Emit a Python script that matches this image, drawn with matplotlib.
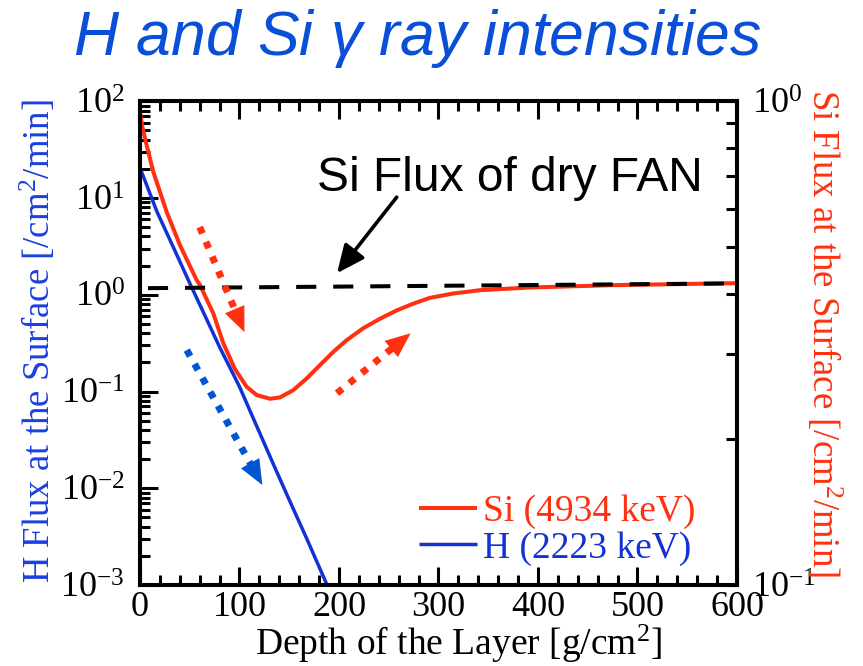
import numpy as np
import matplotlib

matplotlib.use("Agg")
import matplotlib.pyplot as plt
from matplotlib.ticker import FixedLocator, NullFormatter

plt.rcParams["font.family"] = ["Liberation Serif", "DejaVu Serif"]
plt.rcParams["mathtext.fontset"] = "custom"
plt.rcParams["mathtext.rm"] = "Liberation Serif"
plt.rcParams["mathtext.it"] = "Liberation Serif:italic"

# --- data ------------------------------------------------------------------
depth_h = [0, 2, 17, 34, 50, 65, 80, 100, 114, 134, 150, 168, 188]
flux_h_log = [1.29, 1.26, 0.86, 0.48, 0.12, -0.21, -0.54, -0.95, -1.28, -1.75, -2.12,
              -2.53, -3.0]

depth_si = [0, 2.7, 6.7, 13.4, 20.1, 26.8, 40.2, 57, 60.3, 73.7, 83.7, 95.5, 107.2,
            117.3, 130.7, 140.7, 154.1, 167.5, 180.9, 194.3, 207.7, 224.5, 241.2, 258,
            274.7, 291.4, 315, 341.7, 392, 475.5, 600]
flux_si_log = [1.88, 1.72, 1.545, 1.27, 1.063, 0.856, 0.512, 0.15, 0.10, -0.193, -0.50,
               -0.77, -0.951, -1.037, -1.075, -1.061, -0.986, -0.865, -0.727, -0.590,
               -0.470, -0.345, -0.248, -0.162, -0.092, -0.032, 0.013, 0.047, 0.075, 0.099,
               0.12]

dry_depth = [8, 600]
dry_flux = [1.17, 1.31]

# dotted trend arrows: (start, tip) in data coords
trend_arrows = [
    ((60, 5.0), (105, 0.41), "#ff3010"),
    ((47, 0.268), (123, 0.0108), "#0055d5"),
    ((198, 0.096), (272, 0.40), "#ff3010"),
]
note_text = "Si Flux of dry FAN"
note_xy = (372, 11.8)
note_tip = (198, 1.67)
note_tail = (258, 10.2)

left_ticks = [1e-3, 1e-2, 1e-1, 1e0, 1e1, 1e2]
left_labels = [r"$\mathregular{10^{-3}}$", r"$\mathregular{10^{-2}}$", r"$\mathregular{10^{-1}}$",
               r"$\mathregular{10^{0}}$", r"$\mathregular{10^{1}}$", r"$\mathregular{10^{2}}$"]
right_ticks = [0.1, 1.0]
right_labels = [r"$\mathregular{10^{-1}}$", r"$\mathregular{10^{0}}$"]
x_ticks = [0, 100, 200, 300, 400, 500, 600]

RED = "#ff3010"
BLUE = "#1232d6"
LABEL_BLUE = "#1a3fe0"
TITLE_BLUE = "#0a4fd8"

fig = plt.figure(figsize=(8.63, 6.66), dpi=100)
ax = fig.add_axes([0.1622, 0.1216, 0.8540 - 0.1622, 0.8480 - 0.1216])
ax.set_yscale("log")
ax.set_xlim(0, 600)
ax.set_ylim(1e-3, 1e2)

ax.plot(depth_si, 10 ** np.array(flux_si_log), color=RED, lw=2.9, label="Si (4934 keV)",
        solid_capstyle="butt", solid_joinstyle="round")
ax.plot(depth_h, 10 ** np.array(flux_h_log), color=BLUE, lw=2.5, label="H (2223 keV)",
        solid_capstyle="butt", solid_joinstyle="round")
ax.plot(dry_depth, dry_flux, color="black", lw=2.9, linestyle=(0, (5, 4.2)),
        dash_capstyle="butt")


def dotted_arrow(start, tip, color, head_pt=18):
    trans = ax.transData
    p0 = trans.transform(start)
    p1 = trans.transform(tip)
    d = p1 - p0
    back = head_pt * fig.dpi / 72 * 0.85
    end = trans.inverted().transform(p1 - d / np.hypot(*d) * back)
    ax.plot([start[0], end[0]], [start[1], end[1]], color=color, lw=5,
            linestyle=(0, (1, 1.3)), dash_capstyle="butt")
    ax.annotate("", xy=tip, xytext=start,
                arrowprops=dict(arrowstyle="-|>,head_length=1.0,head_width=0.42",
                                mutation_scale=head_pt, lw=0, color=color,
                                shrinkA=0, shrinkB=0))


for s, t, c in trend_arrows:
    dotted_arrow(s, t, c)

ax.annotate("", xy=note_tip, xytext=note_tail,
            arrowprops=dict(arrowstyle="-|>,head_length=1.0,head_width=0.45",
                            mutation_scale=17, lw=2.6, color="black",
                            shrinkA=0, shrinkB=0))
ax.text(note_xy[0], note_xy[1], note_text, ha="center", va="baseline",
        fontsize=34.5, family="Liberation Sans", color="black")

# axes styling
for sp in ax.spines.values():
    sp.set_linewidth(2.9)
ax.set_yticks(left_ticks)
ax.set_yticklabels(left_labels)
ax.yaxis.set_minor_locator(FixedLocator(
    [m * 10.0 ** e for e in range(-3, 2) for m in range(2, 10)]))
ax.yaxis.set_minor_formatter(NullFormatter())
ax.set_xticks(x_ticks)
ax.xaxis.set_minor_locator(FixedLocator(np.arange(0, 601, 20)))
ax.tick_params(which="both", direction="in", width=2.2, top=True, right=False)
ax.tick_params(which="major", length=13)
ax.tick_params(which="minor", length=7)
ax.tick_params(axis="x", labelsize=26, pad=4)
ax.tick_params(axis="y", labelsize=26, pad=11)

ax.set_xlabel(r"Depth of the Layer [g/cm$\mathregular{^2}$]", fontsize=27)
ax.xaxis.set_label_coords(0.533, -0.078)
ax.set_ylabel(r"H Flux at the Surface [/cm$\mathregular{^2}$/min]", fontsize=26.5,
              color=LABEL_BLUE)
ax.yaxis.set_label_coords(-0.137, 0.505)

ax2 = ax.twinx()
ax2.set_yscale("log")
ax2.set_ylim(0.1, 1.0)
ax2.set_yticks(right_ticks)
ax2.set_yticklabels(right_labels)
ax2.yaxis.set_minor_locator(FixedLocator([m * 0.1 for m in range(2, 10)]))
ax2.yaxis.set_minor_formatter(NullFormatter())
ax2.tick_params(which="both", direction="in", width=2.2, length=8, labelsize=26, pad=11)
for sp in ax2.spines.values():
    sp.set_linewidth(2.9)
ylab2 = ax2.set_ylabel(r"Si Flux at the Surface [/cm$\mathregular{^2}$/min]",
                       fontsize=26.5, color=RED, rotation=270)
ylab2.set_verticalalignment("bottom")
ax2.yaxis.set_label_coords(1.112, 0.52)

leg = ax.legend(loc="lower right", bbox_to_anchor=(0.93, 0.04), frameon=False,
                fontsize=27, handlelength=1.55, handletextpad=0.15, labelspacing=0.05,
                borderaxespad=0, borderpad=0)
for txt, line in zip(leg.get_texts(), leg.get_lines()):
    txt.set_color(line.get_color())

fig.text(0.484, 0.917, r"H and Si $\mathregular{\gamma}$ ray intensities", ha="center",
         va="baseline", fontsize=45, style="italic", family="Liberation Sans",
         color=TITLE_BLUE)

fig.savefig("out.png", dpi=100)
